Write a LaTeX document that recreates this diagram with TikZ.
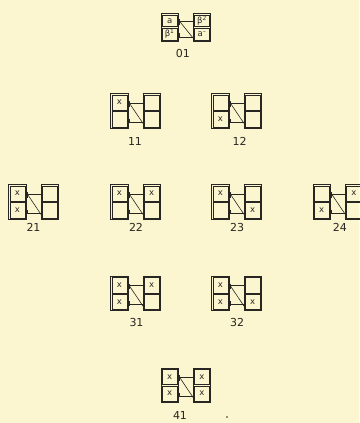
\documentclass[tikz,border=0pt]{standalone}
\usepackage{fontspec}
\setmainfont{DejaVu Sans}
\usepackage{tikz}
\usetikzlibrary{calc,fit}
\definecolor{paper}{RGB}{252,246,208}
\definecolor{ink}{RGB}{40,38,34}
\tikzset{
  c/.style={rectangle,draw=ink,line width=0.45pt,minimum width=15.2pt,inner sep=0pt,font=\fontsize{8.5}{8.5}\selectfont,text=ink},
  fr/.style={rectangle,draw=ink,line width=0.65pt,inner sep=0.75pt},
  ln/.style={draw=ink,line width=0.6pt},
  lb/.style={font=\fontsize{11}{11}\selectfont,text=ink},
}
\newcommand\cellh{16.8}
\newcommand\gfig[9]{%
  \node[c,minimum height={\cellh-1.5}] (#1a) at (#2+8.35,#3+0.5*\cellh) {#6};
  \node[c,minimum height={\cellh-1.5}] (#1b) at (#2+8.35,#3+1.5*\cellh) {#7};
  \node[c,minimum height={\cellh-1.5}] (#1c) at (#2+40.65,#3+0.5*\cellh) {#8};
  \node[c,minimum height={\cellh-1.5}] (#1d) at (#2+40.65,#3+1.5*\cellh) {#9};
  \node[fr,fit=(#1a)(#1b)] (#1l) {}; \node[fr,fit=(#1c)(#1d)] (#1r) {};
  \coordinate (#1p) at ($(#1a.east)+(2.1,0.6)$); \coordinate (#1q) at ($(#1b.east)+(2.1,2.8)$);
  \draw[ln] (#1p) -- (#1p -| #1r.west); \draw[ln] (#1q) -- (#1q -| #1r.west);
  \draw[ln] (#1p) -- ($(#1d.west)+(-0.75,4.3)$);
  \draw[ln] ([yshift=2pt]#1p) -- ([yshift=-3.5pt]#1p); \draw[ln] ([yshift=3.5pt]#1q) -- ([yshift=-1pt]#1q);
  \node[lb] (#1n) at ($(#1l.south)!0.5!(#1r.south)+(#5)$) {#4};
}
\begin{document}
\begin{tikzpicture}[x=1pt,y=-1pt]
\fill[paper] (0,0) rectangle (359,423);
\useasboundingbox (0,0) rectangle (359,423);
\renewcommand\cellh{13.4}
\gfig{g01}{161.3}{14}{01}{-3,12.6}{a}{β\textsuperscript{1}}{β\textsuperscript{2}}{a\textsuperscript{–}}
\renewcommand\cellh{16.8}
\gfig{g11}{111}{94}{11}{-0.5,13}{x}{}{}{}
\gfig{g12}{212}{94}{12}{3,13}{}{x}{}{}
\gfig{g21}{9}{185}{21}{0,8}{x}{x}{}{}
\gfig{g22}{111}{185}{22}{0.5,8}{x}{}{x}{}
\gfig{g23}{212}{185}{23}{0.5,8}{x}{}{}{x}
\gfig{g24}{313.3}{185}{24}{2,8}{}{x}{x}{}
\gfig{g31}{111}{276.7}{31}{1,11.7}{x}{x}{x}{}
\gfig{g32}{212}{276.7}{32}{0.5,11.7}{x}{x}{}{x}
\gfig{g41}{161.3}{368.3}{41}{-5.8,13}{x}{x}{x}{x}
\fill[ink] (227,417) circle (0.8);
\end{tikzpicture}
\end{document}
